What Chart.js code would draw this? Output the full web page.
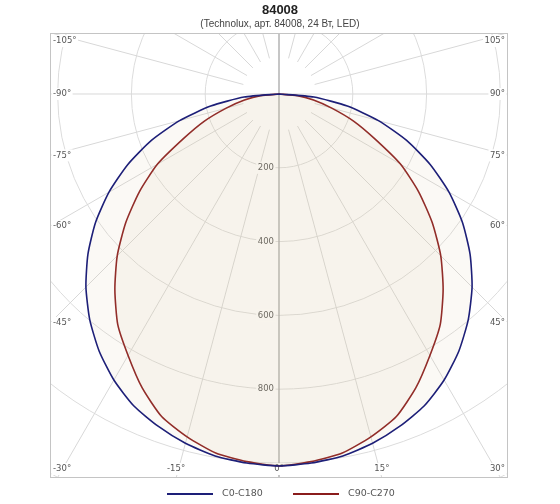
<!DOCTYPE html>
<html>
<head>
<meta charset="utf-8">
<script src="https://cdn.jsdelivr.net/npm/chart.js@4.4.0/dist/chart.umd.min.js"></script>
<style>
    html, body { margin: 0; padding: 0; background: #fff; }
    #wrap { width: 560px; height: 504px; }
</style>
</head>
<body>
<div id="wrap"><canvas id="ldc" width="560" height="504"></canvas></div>
<script>
const title = '84008';
const subtitle = '(Technolux, арт. 84008, 24 Вт, LED)';
const seriesNames = ['C0-C180', 'C90-C270'];
const gamma = [-90, -85, -80, -75, -70, -65, -60, -55, -50, -45, -40, -35, -30, -25, -20, -15, -10, -5,
    0, 5, 10, 15, 20, 25, 30, 35, 40, 45, 50, 55, 60, 65, 70, 75, 80, 85, 90];
const c0c180 = [0, 95, 188, 279, 368, 452, 532, 607, 676, 740, 798, 850, 895, 932, 958, 980, 996, 1004,
    1008, 1004, 996, 980, 958, 932, 895, 850, 798, 740, 676, 607, 532, 452, 368, 279, 188, 95, 0];
const c90c270 = [0, 50, 95, 148, 215, 285, 380, 462, 542, 620, 692, 762, 818, 878, 930, 962, 988, 1000,
    1008, 1000, 988, 962, 930, 878, 818, 762, 692, 620, 542, 462, 380, 285, 215, 148, 95, 50, 0];
const rings = [200, 400, 600, 800, 1000, 1200];
const ringLabels = ['200', '400', '600', '800'];
const spokes = [-165, -150, -135, -120, -105, -90, -75, -60, -45, -30, -15, 0, 15, 30, 45, 60, 75, 90, 105, 120, 135, 150, 165, 180];
const angleLabels = [-105, -90, -75, -60, -45, -30, -15, 0, 15, 30, 45, 60, 75, 90, 105];
const colors = ['#1d1f78', '#8a1c1c'];

function toPoints(values) {
    return gamma.map((g, i) => {
        const rad = g * Math.PI / 180;
        return { x: values[i] * Math.sin(rad), y: -values[i] * Math.cos(rad) };
    });
}

function borderHit(cx, cy, dx, dy, a) {
    let t = Infinity;
    if (dx > 1e-9) t = Math.min(t, (a.right - cx) / dx);
    if (dx < -1e-9) t = Math.min(t, (a.left - cx) / dx);
    if (dy > 1e-9) t = Math.min(t, (a.bottom - cy) / dy);
    if (dy < -1e-9) t = Math.min(t, (a.top - cy) / dy);
    return { x: cx + dx * t, y: cy + dy * t };
}

function labelBox(ctx, text, x, y, align, bg) {
    const w = ctx.measureText(text).width;
    let left = x;
    if (align === 'center') left = x - w / 2;
    if (align === 'right') left = x - w;
    ctx.fillStyle = bg;
    ctx.fillRect(left - 1.5, y - 6, w + 3, 12);
    ctx.fillStyle = '#555';
    ctx.textAlign = align;
    ctx.fillText(text, x, y);
}

const polarGrid = {
    id: 'polarGrid',
    beforeDatasetsDraw(chart) {
        const { ctx, chartArea: a, scales: { x, y } } = chart;
        const cx = x.getPixelForValue(0), cy = y.getPixelForValue(0);
        ctx.save();
        ctx.beginPath();
        ctx.rect(a.left, a.top, a.right - a.left, a.bottom - a.top);
        ctx.clip();

        // aneis
        ctx.strokeStyle = '#dcdcdc';
        ctx.lineWidth = 1;
        rings.forEach(v => {
            const r = x.getPixelForValue(v) - cx;
            ctx.beginPath();
            ctx.arc(cx, cy, r, 0, Math.PI * 2);
            ctx.stroke();
        });

        // raios a cada 15 graus
        spokes.forEach(g => {
            const rad = g * Math.PI / 180;
            const axis = g % 90 === 0;
            const r0 = axis ? 0 : 100;
            const x0 = x.getPixelForValue(r0 * Math.sin(rad)), y0 = y.getPixelForValue(-r0 * Math.cos(rad));
            const x1 = x.getPixelForValue(3000 * Math.sin(rad)), y1 = y.getPixelForValue(-3000 * Math.cos(rad));
            ctx.strokeStyle = (g === 0 || g === 180) ? '#a8a8a8' : '#d8d8d8';
            ctx.lineWidth = (g === 0 || g === 180) ? 1.3 : 1;
            ctx.beginPath();
            ctx.moveTo(x0, y0);
            ctx.lineTo(x1, y1);
            ctx.stroke();
        });

        ctx.font = '8.5px "DejaVu Sans"';
        ctx.textBaseline = 'middle';

        // rotulos dos aneis
        ringLabels.forEach((t, i) => {
            const py = y.getPixelForValue(-rings[i]);
            labelBox(ctx, t, cx - 5, py, 'right', '#fff');
        });

        // rotulos dos angulos na borda
        angleLabels.forEach(g => {
            const rad = g * Math.PI / 180;
            const dx = x.getPixelForValue(1000 * Math.sin(rad)) - cx;
            const dy = y.getPixelForValue(-1000 * Math.cos(rad)) - cy;
            const hit = borderHit(cx, cy, dx, dy, a);
            const text = g + '°';
            const w = ctx.measureText(text).width;
            if (Math.abs(hit.x - a.left) < 0.5) {
                labelBox(ctx, text, a.left + 3, hit.y, 'left', '#fff');
            } else if (Math.abs(hit.x - a.right) < 0.5) {
                labelBox(ctx, text, a.right - 3, hit.y, 'right', '#fff');
            } else {
                const px = Math.min(Math.max(hit.x, a.left + 3 + w / 2), a.right - 3 - w / 2);
                const py = Math.abs(hit.y - a.top) < 0.5 ? a.top + 8 : a.bottom - 9;
                labelBox(ctx, text, px, py, 'center', '#fff');
            }
        });
        ctx.restore();
    },
    afterDraw(chart) {
        const { ctx, chartArea: a } = chart;
        ctx.save();
        ctx.strokeStyle = '#c4c4c4';
        ctx.lineWidth = 1;
        ctx.strokeRect(a.left + 0.5, a.top + 0.5, a.right - a.left - 1, a.bottom - a.top - 1);

        ctx.textAlign = 'center';
        ctx.textBaseline = 'middle';
        ctx.fillStyle = '#222';
        ctx.font = 'bold 13px "Liberation Sans"';
        ctx.fillText(title, 280, 10);
        ctx.fillStyle = '#444';
        ctx.font = '10px "Liberation Sans"';
        ctx.fillText(subtitle, 280, 24);

        // legenda
        const legendX = [167, 293];
        ctx.font = '9.5px "DejaVu Sans"';
        ctx.textAlign = 'left';
        seriesNames.forEach((name, i) => {
            ctx.strokeStyle = colors[i];
            ctx.lineWidth = 2;
            ctx.beginPath();
            ctx.moveTo(legendX[i], 494);
            ctx.lineTo(legendX[i] + 46, 494);
            ctx.stroke();
            ctx.fillStyle = '#555';
            ctx.fillText(name, legendX[i] + 55, 494);
        });
        ctx.restore();
    }
};

function configurarGrafico() {
    const ctx = document.getElementById('ldc').getContext('2d');
    new Chart(ctx, {
        type: 'scatter',
        data: {
            datasets: [{
                label: seriesNames[0],
                data: toPoints(c0c180),
                showLine: true,
                borderColor: colors[0],
                backgroundColor: 'rgba(215, 195, 155, 0.1)',
                borderWidth: 1.6,
                pointRadius: 0,
                tension: 0.2,
                fill: 'shape'
            }, {
                label: seriesNames[1],
                data: toPoints(c90c270),
                showLine: true,
                borderColor: colors[1],
                backgroundColor: 'rgba(215, 195, 155, 0.1)',
                borderWidth: 1.6,
                pointRadius: 0,
                tension: 0.2,
                fill: 'shape'
            }]
        },
        options: {
            responsive: false,
            animation: false,
            layout: { padding: { left: 50, top: 33, right: 52, bottom: 26 } },
            plugins: { legend: { display: false }, tooltip: { enabled: false } },
            scales: {
                x: { type: 'linear', min: -620.6, max: 620.6, display: false },
                y: { type: 'linear', min: -1040.6, max: 165.3, display: false }
            }
        },
        plugins: [polarGrid]
    });
}

configurarGrafico();
</script>
</body>
</html>
